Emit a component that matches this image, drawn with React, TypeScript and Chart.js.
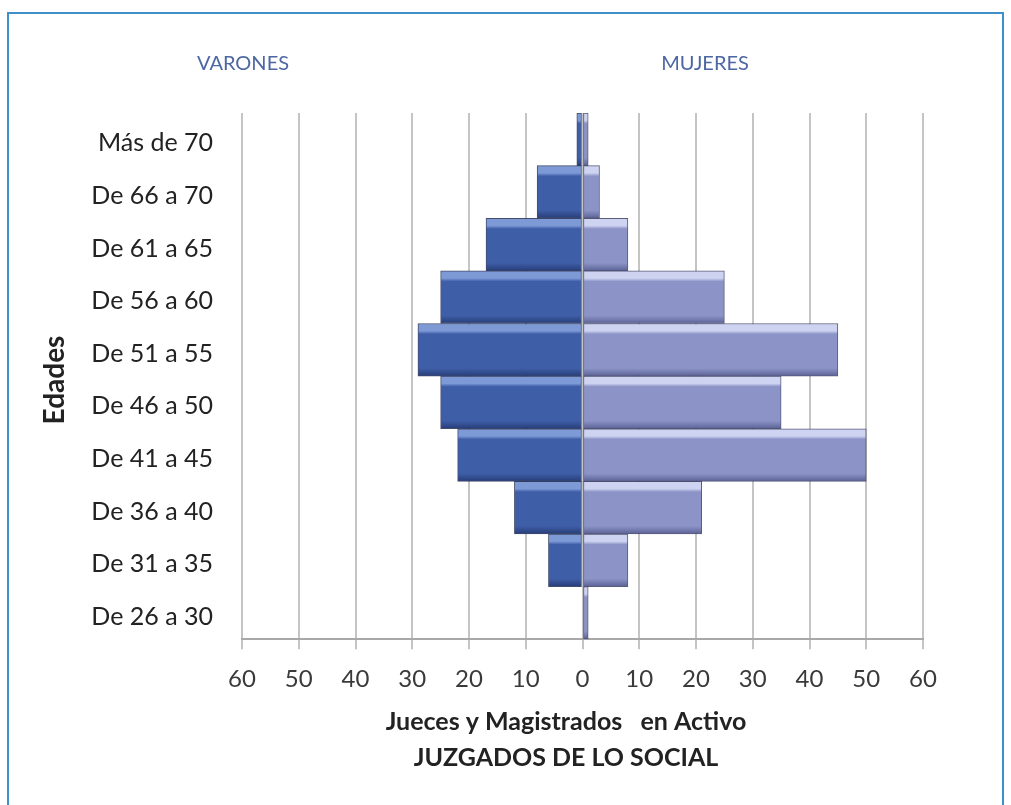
import React, { useEffect, useRef } from "react";
import { Chart, registerables } from "chart.js";

Chart.register(...registerables);

const categories = [
  "Más de 70",
  "De 66 a 70",
  "De 61 a 65",
  "De 56 a 60",
  "De 51 a 55",
  "De 46 a 50",
  "De 41 a 45",
  "De 36 a 40",
  "De 31 a 35",
  "De 26 a 30",
];
const varones = [1, 8, 17, 25, 29, 25, 22, 12, 6, 0];
const mujeres = [1, 3, 8, 25, 45, 35, 50, 21, 8, 1];
const seriesNames = ["VARONES", "MUJERES"];
const xTitleLines = ["Jueces y Magistrados   en Activo", "JUZGADOS DE LO SOCIAL"];
const yTitle = "Edades";

const FONT = "Lato, 'Open Sans', sans-serif";

function bevel(ctx: any, top: string, main: string, bottom: string) {
  const chart = ctx.chart;
  const ys = chart.scales && chart.scales.y;
  if (!chart.chartArea || !ys || ctx.dataIndex === undefined) return main;
  const yc = ys.getPixelForValue(ctx.dataIndex);
  const h = Math.abs(ys.getPixelForValue(1) - ys.getPixelForValue(0));
  const g = chart.ctx.createLinearGradient(0, yc - h / 2, 0, yc + h / 2);
  g.addColorStop(0, top);
  g.addColorStop(0.14, top);
  g.addColorStop(0.2, main);
  g.addColorStop(0.85, main);
  g.addColorStop(1, bottom);
  return g;
}

const textPlugin = {
  id: "extraText",
  afterDraw(chart: any) {
    const { ctx } = chart;
    ctx.save();
    ctx.textAlign = "center";
    ctx.textBaseline = "middle";
    ctx.fillStyle = "#4d67a3";
    ctx.font = `20px ${FONT}`;
    ctx.fillText(seriesNames[0], 243, 64);
    ctx.fillText(seriesNames[1], 705, 64);
    ctx.fillStyle = "#222222";
    ctx.font = `bold 25px ${FONT}`;
    ctx.fillText(xTitleLines[0], 566, 722);
    ctx.fillText(xTitleLines[1], 566, 758);
    ctx.font = `bold 28px ${FONT}`;
    ctx.translate(55, 380);
    ctx.rotate(-Math.PI / 2);
    ctx.fillText(yTitle, 0, 0);
    ctx.restore();
  },
};

export default function App() {
  const ref = useRef<HTMLCanvasElement | null>(null);
  useEffect(() => {
    if (!ref.current) return;
    const chart = new Chart(ref.current, {
      type: "bar",
      data: {
        labels: categories,
        datasets: [
          {
            label: seriesNames[0],
            data: varones.map((v) => -v),
            backgroundColor: (c: any) => bevel(c, "#7d9ad6", "#3f5ea8", "#263d78"),
            borderColor: "rgba(35,45,85,0.85)",
            borderWidth: 1,
            borderSkipped: false,
            barPercentage: 1,
            categoryPercentage: 1,
          },
          {
            label: seriesNames[1],
            data: mujeres,
            backgroundColor: (c: any) => bevel(c, "#cdd3f0", "#8c94c7", "#5b6194"),
            borderColor: "rgba(60,65,100,0.85)",
            borderWidth: 1,
            borderSkipped: false,
            barPercentage: 1,
            categoryPercentage: 1,
          },
        ],
      },
      options: {
        indexAxis: "y",
        animation: false,
        responsive: false,
        maintainAspectRatio: false,
        layout: { padding: { top: 113, right: 88, bottom: 95, left: 0 } },
        plugins: {
          legend: { display: false },
          tooltip: { enabled: false },
          title: { display: false },
        },
        scales: {
          x: {
            stacked: true,
            min: -60,
            max: 60,
            ticks: {
              stepSize: 10,
              callback: (v: any) => String(Math.abs(Number(v))),
              color: "#3a3a3a",
              font: { family: FONT, size: 24 },
              padding: 16,
              maxRotation: 0,
            },
            grid: {
              color: "#c4c4c4",
              lineWidth: 2,
              tickLength: 10,
              drawTicks: true,
            },
            border: { display: true, color: "#a8a8a8", width: 2 },
          },
          y: {
            stacked: true,
            afterFit: (s: any) => {
              s.width = 242;
            },
            ticks: {
              color: "#222222",
              font: { family: FONT, size: 25 },
              padding: 29,
              labelOffset: 4,
            },
            grid: { display: false, drawTicks: false },
            border: { display: false },
          },
        },
      },
      plugins: [textPlugin],
    });
    return () => chart.destroy();
  }, []);
  return (
    <div style={{ position: "fixed", left: 0, top: 0, width: 1011, height: 805, background: "#fff" }}>
      <div
        style={{
          position: "absolute",
          left: 7,
          top: 12,
          width: 993,
          height: 800,
          borderTop: "2px solid #3f8fc8",
          borderLeft: "2px solid #3f8fc8",
          borderRight: "2px solid #3f8fc8",
        }}
      />
      <canvas ref={ref} width={1011} height={805} style={{ position: "absolute", left: 0, top: 0 }} />
    </div>
  );
}
